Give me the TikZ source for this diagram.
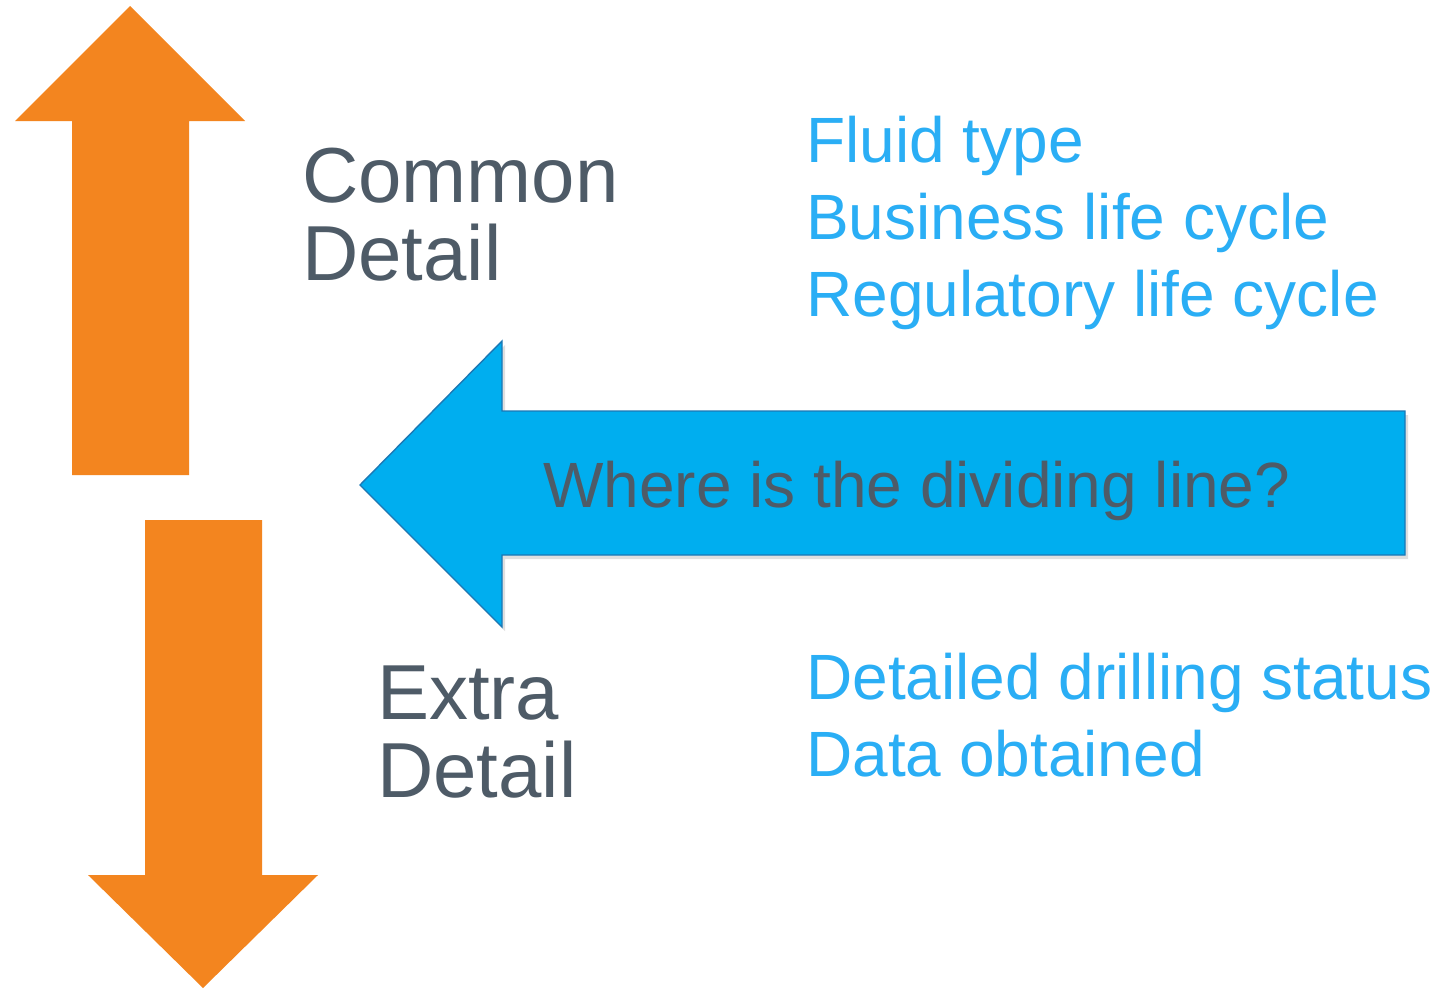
\documentclass[tikz,border=0pt]{standalone}
\usepackage{fontspec}
\setmainfont{Liberation Sans}
\usetikzlibrary{shadows}
\definecolor{tangerine}{HTML}{F3851F}
\definecolor{sky}{HTML}{00AEEF}
\definecolor{skyedge}{HTML}{1B78B5}
\definecolor{slate}{HTML}{4E5B67}
\definecolor{azure}{HTML}{2AAEF5}

\begin{document}
\begin{tikzpicture}[
  x=1pt,y=-1pt,
  bigarrow/.style={fill=tangerine},
  pointer/.style={fill=sky,draw=skyedge,line width=1.4pt,line join=miter,
                  drop shadow={opacity=0.25,shadow xshift=3pt,shadow yshift=-4pt}},
  heading/.style={font=\fontsize{78}{78}\selectfont,text=slate,align=left,
                  anchor=base west,inner sep=0pt},
  item/.style={font=\fontsize{64}{77}\selectfont,text=azure,align=left,
               anchor=base west,inner sep=0pt},
]
\useasboundingbox[fill=white] (0,0) rectangle (1442,988);

% Up and down arrows on the left.
\fill[bigarrow] (130,6) -- (245,121) -- (189,121) -- (189,475)
  -- (72,475) -- (72,121) -- (15,121) -- cycle;
\fill[bigarrow] (145,520) -- (262,520) -- (262,875) -- (318,875)
  -- (203,988) -- (88,875) -- (145,875) -- cycle;

% Big left-pointing arrow with the question.
\path[pointer] (360,485) -- (502,341) -- (502,411) -- (1405,411)
  -- (1405,555) -- (502,555) -- (502,627) -- cycle;
\node[font=\fontsize{64}{64}\selectfont,text=slate,anchor=base west,
      inner sep=0pt] (question) at (543,507) {Where is the dividing line?};

% Labels on each side (anchored at the last line's baseline).
\node[heading] (common) at (302,280) {Common\\Detail};
\node[heading] (extra) at (377,797) {Extra\\Detail};

\node[item] (upper) at (806,316)
  {Fluid type\\Business life cycle\\Regulatory life cycle};
\node[item] (lower) at (806,776)
  {Detailed drilling status\\Data obtained};

\end{tikzpicture}
\end{document}
